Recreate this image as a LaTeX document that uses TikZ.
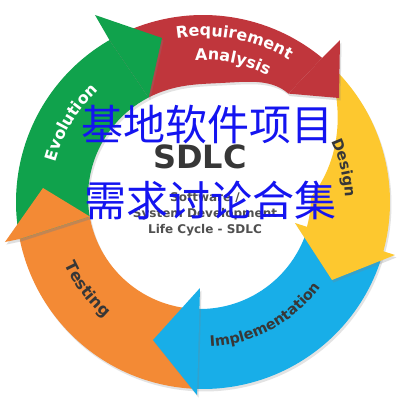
\documentclass[tikz,border=0pt]{standalone}
\usepackage{fontspec}
\usetikzlibrary{calc,decorations.text,shadows}
\newfontfamily\dejavu{DejaVu Sans}
\newfontfamily\cjkfont{Noto Sans CJK SC}
\definecolor{cRed}{RGB}{192,54,60}
\definecolor{cYel}{RGB}{253,200,47}
\definecolor{cBlue}{RGB}{24,174,232}
\definecolor{cOrange}{RGB}{243,138,53}
\definecolor{cGreen}{RGB}{16,162,76}
\definecolor{cDark}{RGB}{55,55,55}
\definecolor{cGrayTxt}{RGB}{80,80,80}
\definecolor{cZh}{RGB}{20,20,240}
\pgfmathdeclarefunction{rred}{1}{\pgfmathparse{112+24*exp(max(-8,0-((#1-50)/22)*((#1-50)/22)))}}
\pgfmathdeclarefunction{ryel}{1}{\pgfmathparse{111+1.6*max(#1,0)}}
\newcommand\lblfont[1]{\dejavu\bfseries\fontsize{#1}{#1}\selectfont}
\tikzset{
  segbody/.style={fill=#1, drop shadow={opacity=.22, shadow xshift=1.5pt, shadow yshift=-2.5pt}},
  seghead/.style={fill=#1, drop shadow={opacity=.25, shadow xshift=1.5pt, shadow yshift=-2.5pt}},
  arclabel/.style={decorate, decoration={text along path, text align=center, text color=#1}},
}
\begin{document}
\begin{tikzpicture}[x=1pt,y=1pt,samples=60]
\useasboundingbox (-200,-200) rectangle (200,200);
\fill[white] (-200,-200) rectangle (200,200);
\coordinate (Co) at (3,-2);
\coordinate (Ci) at (0,3);
% ---- bodies
\fill[segbody=cRed] plot[domain=120:50.4] ({3+187*cos(\x)},{-2+187*sin(\x)})
  -- plot[domain=49.5:117.3] ({rred(\x)*cos(\x)},{3+rred(\x)*sin(\x)}) -- cycle;
\fill[segbody=cYel] plot[domain=47:-16.5] ({3+187*cos(\x)},{-2+187*sin(\x)})
  -- plot[domain=-16.5:47] ({ryel(\x)*cos(\x)},{3+ryel(\x)*sin(\x)}) -- cycle;
\fill[segbody=cBlue] plot[domain=-16.5:-92.5] ({3+187*cos(\x)},{-2+187*sin(\x)})
  -- plot[domain=-91.5:-16.5] ({112*cos(\x)},{3+112*sin(\x)}) -- cycle;
\fill[segbody=cOrange] plot[domain=-92.5:-168.6] ({3+187*cos(\x)},{-2+187*sin(\x)})
  -- plot[domain=-170:-91.5] ({112*cos(\x)},{3+112*sin(\x)}) -- cycle;
\fill[segbody=cGreen] plot[domain=191.4:120] ({3+187*cos(\x)},{-2+187*sin(\x)})
  -- plot[domain=117.3:190] ({112*cos(\x)},{3+112*sin(\x)}) -- cycle;
% ---- heads
\coordinate (rP1) at ({rred(49.5)*cos(49.5)},{3+rred(49.5)*sin(49.5)});
\coordinate (rP2) at ({3+187*cos(50.4)},{-2+187*sin(50.4)});
\coordinate (rBarb) at (140,160);
\coordinate (rTip) at (139,102);
\fill[seghead=cRed] (rP1) -- (rP2) -- (rBarb) -- (rTip) -- cycle;
\coordinate (yIn) at (95,-23);
\coordinate (yOut) at (195,-55);
\coordinate (yTip) at (132,-80);
\fill[seghead=cYel] (yIn) -- (yOut) -- (yTip) -- cycle;
\coordinate (bIn) at (0,-88);
\coordinate (bOut) at (-3,-195);
\coordinate (bTip) at (-47,-140);
\fill[seghead=cBlue] (bIn) -- (bTip) -- (bOut) -- cycle;
\coordinate (oP1) at ({112*cos(190)},{3+112*sin(190)});
\coordinate (oP2) at ({3+187*cos(191.4)},{-2+187*sin(191.4)});
\coordinate (oBarb) at (-195,-42);
\coordinate (oTip) at (-157,12);
\fill[seghead=cOrange] (oP1) -- (oP2) -- (oBarb) -- (oTip) -- cycle;
\coordinate (gP1) at ({112*cos(117.3)},{3+112*sin(117.3)});
\coordinate (gP2) at ({3+187*cos(120)},{-2+187*sin(120)});
\coordinate (gBarb) at (-105,185);
\coordinate (gTip) at (-38,162);
\fill[seghead=cGreen] (gP1) -- (gP2) -- (gBarb) -- (gTip) -- cycle;
% ---- labels along the ring
\path[arclabel=white, decoration={text={|\lblfont{16pt}|Requirement}}]
  ($(Co)+(103:166)$) arc[start angle=103, end angle=55, radius=166];
\path[arclabel=white, decoration={text={|\lblfont{16pt}|Analysis}}]
  ($(Co)+(96:142)$) arc[start angle=96, end angle=60, radius=142];
\path[arclabel=cDark, decoration={text={|\lblfont{15pt}|Design}}]
  ($(Co)+(30:142)$) arc[start angle=30, end angle=-3, radius=142];
\path[arclabel=cDark, decoration={text={|\lblfont{14.5pt}|Implementation}}]
  ($(Co)+(-90:145)$) arc[start angle=-90, end angle=-33, radius=145];
\path[arclabel=cDark, decoration={text={|\lblfont{16pt}|Testing}}]
  ($(Co)+(200:152)$) arc[start angle=200, end angle=234, radius=152];
\path[arclabel=white, decoration={text={|\lblfont{16pt}|Evolution}}]
  ($(Co)+(172:153)$) arc[start angle=172, end angle=126, radius=153];
% ---- centre text
\node[anchor=base, inner sep=0, text=cDark, font=\lblfont{32pt}] (sdlc) at (0,32) {SDLC};
\node[anchor=base, inner sep=0, text=cGrayTxt, font=\lblfont{12pt}] (l1) at (5,-1) {Software /};
\node[anchor=base, inner sep=0, text=cGrayTxt, font=\lblfont{12pt}] (l2) at (5,-17) {System Development};
\node[anchor=base, inner sep=0, text=cGrayTxt, font=\lblfont{12pt}] (l3) at (5,-33) {Life Cycle - SDLC};
% ---- overlay Chinese title
\node[anchor=base, inner sep=0, text=cZh] (zh1) at (8,60) {\cjkfont\fontsize{42pt}{42pt}\selectfont 基地软件项目};
\node[anchor=base, inner sep=0, text=cZh] (zh2) at (11,-16.5) {\cjkfont\fontsize{42pt}{42pt}\selectfont 需求讨论合集};
\end{tikzpicture}
\end{document}
